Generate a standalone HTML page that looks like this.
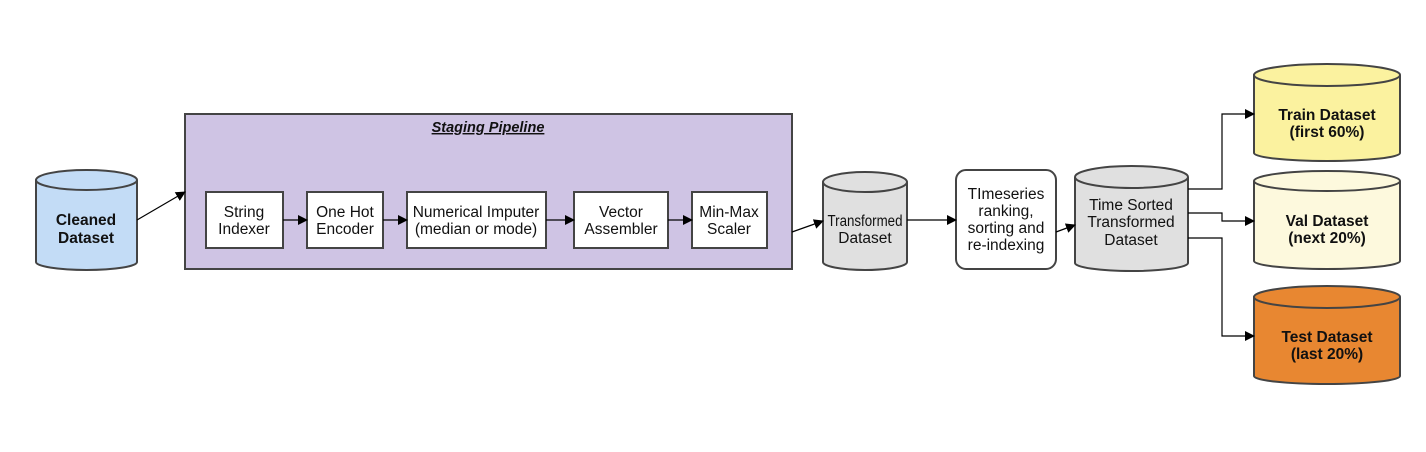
<!DOCTYPE html>
<html><head><style>
body{margin:0;background:#fff}
svg text{font-family:"Liberation Sans",sans-serif;font-size:15.5px;fill:#111;text-anchor:middle}
.b{font-weight:bold}
</style></head><body>
<svg width="1426" height="447" viewBox="0 0 1426 447" xmlns="http://www.w3.org/2000/svg">
<defs><marker id="a" markerWidth="10" markerHeight="10" refX="9" refY="5" orient="auto" markerUnits="userSpaceOnUse"><path d="M0,0 L10,5 L0,10 z" fill="#000"/></marker></defs>
<g stroke="#444" stroke-width="2">
<path d="M36,180 L36,262 A50.5,8 0 0 0 137,262 L137,180" fill="#c3dcf6"/>
<ellipse cx="86.5" cy="180" rx="50.5" ry="10" fill="#c3dcf6"/>
<rect x="185" y="114" width="607" height="155" fill="#cfc4e4"/>
<g fill="#fff">
<rect x="206" y="192" width="77" height="56"/>
<rect x="307" y="192" width="76" height="56"/>
<rect x="407" y="192" width="139" height="56"/>
<rect x="574" y="192" width="94" height="56"/>
<rect x="692" y="192" width="75" height="56"/>
</g>
<path d="M823,182 L823,262 A42,8 0 0 0 907,262 L907,182" fill="#e0e0e0"/>
<ellipse cx="865" cy="182" rx="42" ry="10" fill="#e0e0e0"/>
<rect x="956" y="170" width="100" height="99" rx="10" fill="#fff"/>
<path d="M1075,177 L1075,263 A56.5,8 0 0 0 1188,263 L1188,177" fill="#e0e0e0"/>
<ellipse cx="1131.5" cy="177" rx="56.5" ry="11" fill="#e0e0e0"/>
<path d="M1254,75 L1254,153 A73,8 0 0 0 1400,153 L1400,75" fill="#fbf29f"/>
<ellipse cx="1327" cy="75" rx="73" ry="11" fill="#fbf29f"/>
<path d="M1254,181 L1254,261 A73,8 0 0 0 1400,261 L1400,181" fill="#fdf9dd"/>
<ellipse cx="1327" cy="181" rx="73" ry="10" fill="#fdf9dd"/>
<path d="M1254,297 L1254,376 A73,8 0 0 0 1400,376 L1400,297" fill="#e88731"/>
<ellipse cx="1327" cy="297" rx="73" ry="11" fill="#e88731"/>
</g>
<g stroke="#000" stroke-width="1.2" fill="none" marker-end="url(#a)">
<path d="M137,220 L185,192"/>
<path d="M283,220 L307,220"/>
<path d="M383,220 L407,220"/>
<path d="M546,220 L574,220"/>
<path d="M668,220 L692,220"/>
<path d="M792,232 L823,221"/>
<path d="M907,220 L956,220"/>
<path d="M1056,232 L1075,225"/>
<path d="M1188,189 L1222,189 L1222,114 L1254,114"/>
<path d="M1188,213 L1222,213 L1222,221 L1254,221"/>
<path d="M1188,238 L1222,238 L1222,336 L1254,336"/>
</g>
<text x="488" y="132" class="b" style="font-style:italic;text-decoration:underline;font-size:14.5px">Staging Pipeline</text>
<text x="86" y="225" class="b">Cleaned</text><text x="86" y="243" class="b">Dataset</text>
<text x="244" y="217">String</text><text x="244" y="234">Indexer</text>
<text x="345" y="217">One Hot</text><text x="345" y="234">Encoder</text>
<text x="476" y="217">Numerical Imputer</text><text x="476" y="234">(median or mode)</text>
<text x="621" y="217">Vector</text><text x="621" y="234">Assembler</text>
<text x="729" y="217">Min-Max</text><text x="729" y="234">Scaler</text>
<text x="865" y="226" textLength="75" lengthAdjust="spacingAndGlyphs">Transformed</text><text x="865" y="243">Dataset</text>
<text x="1006" y="199">TImeseries</text><text x="1006" y="216">ranking,</text><text x="1006" y="233">sorting and</text><text x="1006" y="250">re-indexing</text>
<text x="1131" y="210">Time Sorted</text><text x="1131" y="227">Transformed</text><text x="1131" y="245">Dataset</text>
<text x="1327" y="120" class="b">Train Dataset</text><text x="1327" y="137" class="b">(first 60%)</text>
<text x="1327" y="226" class="b">Val Dataset</text><text x="1327" y="243" class="b">(next 20%)</text>
<text x="1327" y="342" class="b">Test Dataset</text><text x="1327" y="359" class="b">(last 20%)</text>
</svg>
</body></html>
